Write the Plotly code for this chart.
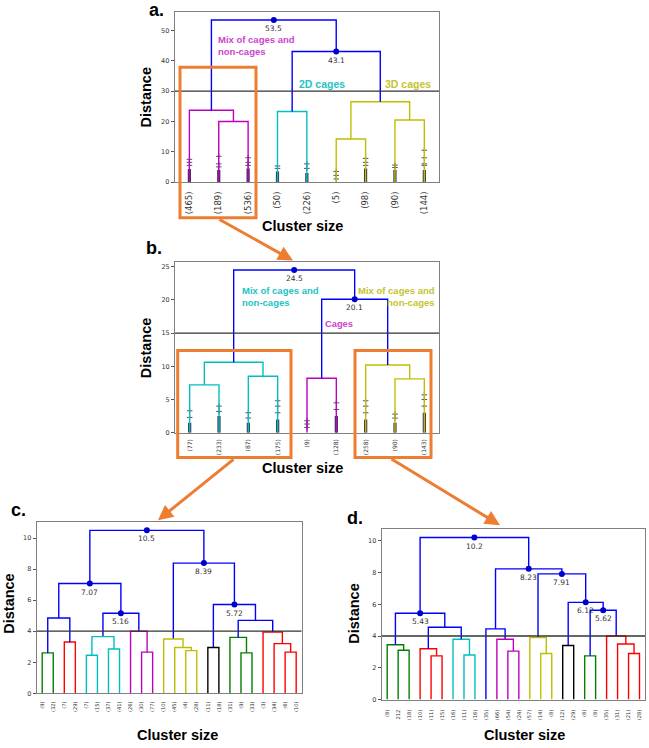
import plotly.graph_objects as go

W, H = 649, 748


def px(x):
    return x / W


def py(y):
    return 1 - y / H


LINE_COLORS = {'b': '#0000FF', 'c': '#00BFBF', 'm': '#BF00BF', 'y': '#BFBF00',
               'g': '#008000', 'r': '#FF0000', 'k': '#000000'}
ORANGE = '#ED7D31'

# ---------------- panel a ----------------
a_labels = ["(465)", "(189)", "(536)", "(50)", "(226)", "(5)", "(98)", "(90)", "(144)"]
a_left = [1, 0, 3, 5, 7, 12, 11, 10]
a_right = [2, 9, 4, 6, 8, 13, 14, 15]
a_height = [20.0, 23.7, 23.3, 14.2, 20.5, 26.5, 43.1, 53.5]
a_color = ['m', 'm', 'c', 'y', 'y', 'y', 'b', 'b']
a_cut = 30
a_annot_min = 30
a_yticks = [0, 10, 20, 30, 40, 50]
a_band = [4.3, 4.0, 4.5, 3.5, 3.0, 0.0, 4.5, 4.0, 4.0]
a_sparse = [[5.5, 6.5, 7.5], [5.0, 6.0, 8.5], [5.5, 6.5, 8.0], [4.5, 5.3], [4.5, 6.0],
            [1.0, 2.2, 3.5], [5.5, 6.5, 7.8], [4.8, 5.6], [5.5, 6.0, 8.0, 10.5]]

# ---------------- panel b ----------------
b_labels = ["(77)", "(233)", "(87)", "(175)", "(9)", "(128)", "(258)", "(90)", "(143)"]
b_left = [0, 2, 9, 4, 7, 6, 12, 11]
b_right = [1, 3, 10, 5, 8, 13, 14, 15]
b_height = [7.2, 8.5, 10.6, 8.2, 8.1, 10.2, 20.1, 24.5]
b_color = ['c', 'c', 'c', 'm', 'y', 'y', 'b', 'b']
b_cut = 15
b_annot_min = 15
b_yticks = [0, 5, 10, 15, 20, 25]
b_band = [1.5, 2.5, 1.5, 2.0, 0.0, 2.5, 2.0, 1.5, 3.0]
b_sparse = [[2.3, 3.3], [3.2, 4.0], [2.2, 3.0], [3.0, 4.0, 4.8], [0.8, 1.3, 1.8],
            [3.5, 4.5], [3.0, 4.0, 4.8], [2.2, 2.8], [4.0, 5.0, 5.7]]

# ---------------- panel c ----------------
c_labels = ["(9)", "(32)", "(7)", "(29)", "(7)", "(15)", "(37)", "(41)", "(26)", "(30)",
            "(77)", "(10)", "(45)", "(4)", "(28)", "(11)", "(18)", "(31)", "(9)", "(33)",
            "(3)", "(34)", "(6)", "(10)"]
c_left = [0, 2, 24, 4, 6, 27, 9, 8, 29, 26, 13, 12, 11, 15, 18, 17, 22, 21, 20, 39, 37, 36, 33]
c_right = [1, 3, 25, 5, 7, 28, 10, 30, 31, 32, 14, 34, 35, 16, 19, 38, 23, 40, 41, 42, 43, 44, 45]
c_height = [2.6, 3.3, 4.85, 2.45, 2.85, 3.65, 2.65, 4.0, 5.16, 7.07, 2.75, 2.95, 3.5,
            2.95, 2.6, 3.6, 2.65, 3.2, 3.95, 4.7, 5.72, 8.39, 10.5]
c_color = ['g', 'r', 'b', 'c', 'c', 'c', 'm', 'm', 'b', 'b', 'y', 'y', 'y',
           'k', 'g', 'g', 'r', 'r', 'r', 'b', 'b', 'b', 'b']
c_cut = 4
c_annot_min = 5
c_yticks = [0, 2, 4, 6, 8, 10]

# ---------------- panel d ----------------
d_labels = ["(8)", "212", "(18)", "(10)", "(11)", "(15)", "(16)", "(11)", "(16)", "(35)",
            "(66)", "(54)", "(24)", "(57)", "(14)", "(8)", "(12)", "(29)", "(8)", "(8)",
            "(35)", "(31)", "(21)", "(28)"]
d_left = [1, 0, 4, 3, 7, 6, 27, 25, 11, 10, 9, 14, 13, 16, 18, 22, 21, 20, 38, 37, 36, 34, 31]
d_right = [2, 24, 5, 26, 8, 28, 29, 30, 12, 32, 33, 15, 35, 17, 19, 23, 39, 40, 41, 42, 43, 44, 45]
d_height = [3.1, 3.45, 2.75, 3.2, 2.8, 3.8, 4.55, 5.43, 3.05, 3.8, 4.45, 2.9, 3.9,
            3.4, 2.75, 2.9, 3.5, 4.0, 5.62, 6.12, 7.91, 8.23, 10.2]
d_color = ['g', 'g', 'r', 'r', 'c', 'c', 'b', 'b', 'm', 'm', 'b', 'y', 'y',
           'k', 'g', 'r', 'r', 'r', 'b', 'b', 'b', 'b', 'b']
d_cut = 4
d_annot_min = 5
d_yticks = [0, 2, 4, 6, 8, 10]

panels = [
    dict(labels=a_labels, left=a_left, right=a_right, height=a_height, color=a_color,
         cut=a_cut, annot_min=a_annot_min, yticks=a_yticks, band=a_band, sparse=a_sparse,
         xdom=(174.7, 439.0), ydom=(12.0, 183.0), leaf_font=8.5, standoff=5),
    dict(labels=b_labels, left=b_left, right=b_right, height=b_height, color=b_color,
         cut=b_cut, annot_min=b_annot_min, yticks=b_yticks, band=b_band, sparse=b_sparse,
         xdom=(175.0, 439.0), ydom=(263.3, 435.0), leaf_font=6.0, standoff=3),
    dict(labels=c_labels, left=c_left, right=c_right, height=c_height, color=c_color,
         cut=c_cut, annot_min=c_annot_min, yticks=c_yticks, band=None, sparse=None,
         xdom=(36.7, 301.7), ydom=(525.0, 697.0), leaf_font=5.2, standoff=5),
    dict(labels=d_labels, left=d_left, right=d_right, height=d_height, color=d_color,
         cut=d_cut, annot_min=d_annot_min, yticks=d_yticks, band=None, sparse=None,
         xdom=(381.7, 645.0), ydom=(532.3, 703.3), leaf_font=5.2, standoff=7),
]

TICK_FONT = dict(family="DejaVu Sans", size=6.5, color="#333333")
HEAD_FONT = "Liberation Sans, Arial, sans-serif"

fig = go.Figure()
layout = dict(width=W, height=H, margin=dict(l=0, r=0, t=0, b=0),
              plot_bgcolor='white', paper_bgcolor='white', showlegend=False)
annotations = []
shapes = []

for i, p in enumerate(panels):
    sfx = '' if i == 0 else str(i + 1)
    xr, yr = 'x' + sfx, 'y' + sfx
    labels = p['labels']
    n = len(labels)
    xs = {k: 5 + 10 * k for k in range(n)}
    ys = {k: 0.0 for k in range(n)}
    segs = {}
    nodes = []
    for k, (l, r, h, c) in enumerate(zip(p['left'], p['right'], p['height'], p['color'])):
        sx, sy = segs.setdefault(c, ([], []))
        sx += [xs[l], xs[l], xs[r], xs[r], None]
        sy += [ys[l], h, h, ys[r], None]
        xs[n + k] = (xs[l] + xs[r]) / 2
        ys[n + k] = h
        if h > p['annot_min']:
            nodes.append((xs[n + k], h))

    # leaf-base scatter of member distances (panels a, b)
    if p['band'] is not None:
        bx, by = [], []
        for k, top in enumerate(p['band']):
            if top > 0:
                bx += [xs[k], xs[k], None]
                by += [0, top, None]
        fig.add_trace(go.Scatter(x=bx, y=by, mode='lines', xaxis=xr, yaxis=yr,
                                 line=dict(color='rgba(35,25,70,0.9)', width=3.2),
                                 hoverinfo='skip'))
        mx, my = [], []
        for k, pts in enumerate(p['sparse']):
            for v in pts:
                mx.append(xs[k])
                my.append(v)
        fig.add_trace(go.Scatter(x=mx, y=my, mode='markers', xaxis=xr, yaxis=yr,
                                 marker=dict(symbol='cross-thin', size=4,
                                             line=dict(color='rgba(40,40,70,0.8)', width=1)),
                                 hoverinfo='skip'))

    for c, (sx, sy) in segs.items():
        fig.add_trace(go.Scatter(x=sx, y=sy, mode='lines', xaxis=xr, yaxis=yr,
                                 line=dict(color=LINE_COLORS[c], width=1.4),
                                 hoverinfo='skip'))

    xmax = 10 * n
    fig.add_trace(go.Scatter(x=[0, xmax], y=[p['cut'], p['cut']], mode='lines',
                             xaxis=xr, yaxis=yr, line=dict(color='#333333', width=1.3),
                             hoverinfo='skip'))

    fig.add_trace(go.Scatter(x=[q[0] for q in nodes], y=[q[1] for q in nodes],
                             mode='markers', xaxis=xr, yaxis=yr,
                             marker=dict(color='#0000CC', size=6), hoverinfo='skip'))
    for (nx, nh) in nodes:
        annotations.append(dict(x=nx, y=nh, xref=xr, yref=yr, text=f"{nh:.3g}",
                                showarrow=False, yanchor='top', xanchor='center', yshift=-2,
                                font=dict(family="DejaVu Sans", size=7.5, color='#333333')))

    ymax = max(p['height']) * 1.05
    x0, x1 = p['xdom']
    y0, y1 = p['ydom']
    layout['xaxis' + sfx] = dict(
        domain=[px(x0), px(x1)], range=[0, xmax], anchor=yr,
        tickmode='array', tickvals=[xs[k] for k in range(n)], ticktext=labels,
        tickangle=-90, ticks='', ticklabelstandoff=p['standoff'],
        tickfont=dict(family="DejaVu Sans", size=p['leaf_font'], color='#333333'),
        showline=True, linecolor='#808080', linewidth=1, mirror=True,
        showgrid=False, zeroline=False, fixedrange=True)
    layout['yaxis' + sfx] = dict(
        domain=[py(y1), py(y0)], range=[0, ymax], anchor=xr,
        tickmode='array', tickvals=p['yticks'], ticks='outside', ticklen=3,
        tickcolor='#555555', tickfont=TICK_FONT,
        showline=True, linecolor='#808080', linewidth=1, mirror=True,
        showgrid=False, zeroline=False, fixedrange=True)

# ---- cluster descriptions
def txt(text, x, y, ref, color, size, xa='left', ya='top', align='left'):
    annotations.append(dict(x=x, y=y, xref='x' + ref, yref='y' + ref, text=text,
                            showarrow=False, xanchor=xa, yanchor=ya, align=align,
                            font=dict(family=HEAD_FONT, size=size, color=color, weight='bold')))

txt("Mix of cages and<br>non-cages", 14.0, 49.6, '', '#CC44CC', 9.5)
txt("2D cages", 41.5, 32.4, '', '#22C4C4', 10.5, ya='middle')
txt("3D cages", 70.9, 32.4, '', '#C4C430', 10.5, ya='middle')
txt("Mix of cages and<br>non-cages", 22.2, 22.6, '2', '#22C4C4', 9.5)
txt("Mix of cages and<br>non-cages", 89.2, 22.6, '2', '#C4C430', 9.5, xa='right', align='right')
txt("Cages", 56.0, 16.4, '2', '#CC44CC', 9.3, xa='center', ya='middle')

# ---- panel letters, axis titles
def ptxt(text, x, y, size, angle=0):
    annotations.append(dict(x=px(x), y=py(y), xref='paper', yref='paper', text=text,
                            showarrow=False, xanchor='center', yanchor='middle',
                            textangle=angle,
                            font=dict(family=HEAD_FONT, size=size, color='black', weight='bold')))

ptxt("a.", 156, 10, 18)
ptxt("b.", 154, 249, 18)
ptxt("c.", 18, 513, 18)
ptxt("d.", 355, 521, 18)
for (dx, dy) in [(146, 98), (146, 350), (9, 607), (354, 617)]:
    ptxt("Distance", dx, dy, 14.5, angle=-90)
for (cx, cy) in [(302, 227), (302, 471), (177, 739), (524, 739)]:
    ptxt("Cluster size", cx, cy, 14.5)

# ---- orange boxes
for (bx0, by0, bx1, by1) in [(180, 67.7, 256, 219), (177.7, 352.3, 291, 460), (355, 352.3, 431, 460)]:
    shapes.append(dict(type='rect', xref='paper', yref='paper',
                       x0=px(bx0), x1=px(bx1), y0=py(by1), y1=py(by0),
                       line=dict(color=ORANGE, width=3), fillcolor='rgba(0,0,0,0)'))

# ---- orange arrows (tip, tail in pixels)
for (tx, ty, sx, sy) in [(293, 262, 218, 220), (158, 523, 235, 461), (500, 528, 390, 461)]:
    annotations.append(dict(x=px(tx), y=py(ty), xref='paper', yref='paper',
                            ax=sx - tx, ay=sy - ty, axref='pixel', ayref='pixel',
                            text='', showarrow=True, arrowhead=2, arrowsize=1,
                            arrowwidth=3, arrowcolor=ORANGE))

layout['annotations'] = annotations
layout['shapes'] = shapes
layout['hovermode'] = False
fig.update_layout(**layout)
fig.write_html("out.html",
               config={'displayModeBar': False, 'staticPlot': True},
               post_script="document.body.style.margin='0';document.body.style.padding='0';"
                           "document.documentElement.style.overflow='hidden';")
